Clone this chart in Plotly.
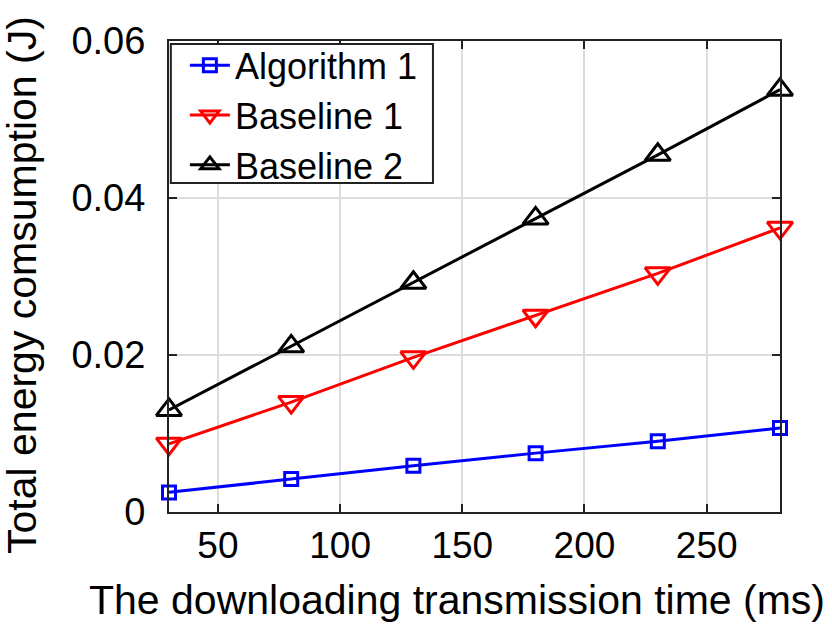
import plotly.graph_objects as go

x_vals = [30, 80, 130, 180, 230, 280]
algorithm1 = [0.0025, 0.0042, 0.0059, 0.0075, 0.0090, 0.0107]
baseline1 = [0.0087, 0.0140, 0.0197, 0.0250, 0.0304, 0.0362]
baseline2 = [0.0130, 0.0211, 0.0292, 0.0374, 0.0455, 0.0538]

x_ticks = [50, 100, 150, 200, 250]
y_ticks = [0, 0.02, 0.04, 0.06]
y_ticktext = ["0", "0.02", "0.04", "0.06"]

x_title = "The downloading transmission time (ms)"
y_title = "Total energy comsumption (J)"

series = [
    ("Algorithm 1", algorithm1, "#0000FF", "square-open", 13),
    ("Baseline 1", baseline1, "#FF0000", "triangle-down-open", 22),
    ("Baseline 2", baseline2, "#000000", "triangle-up-open", 22),
]

fig = go.Figure()
for name, ys, color, sym, size in series:
    fig.add_trace(go.Scatter(
        x=x_vals, y=ys, name=name, mode="lines+markers", cliponaxis=False,
        line=dict(color=color, width=3),
        marker=dict(symbol=sym, size=size, color=color, line=dict(width=3, color=color)),
    ))

font = "Liberation Sans, Arial, sans-serif"
fig.update_layout(
    width=832, height=624,
    margin=dict(l=169, r=52, t=41, b=112),
    paper_bgcolor="white", plot_bgcolor="white",
    font=dict(family=font, color="black", size=37),
    showlegend=True,
    legend=dict(
        x=0.026, y=1.012, xanchor="left", yanchor="top",
        bgcolor="rgba(0,0,0,0)", borderwidth=0,
        font=dict(size=36, family=font), tracegroupgap=0, itemwidth=40,
    ),
    shapes=[dict(
        type="rect", xref="paper", yref="paper",
        x0=0.003, x1=0.432, y0=0.6985, y1=0.9936,
        line=dict(color="#222", width=2), fillcolor="white", layer="above",
    )],
    annotations=[
        dict(text=x_title, xref="paper", yref="paper", x=0.4714, y=-0.186,
             xanchor="center", yanchor="middle", showarrow=False,
             font=dict(size=41, family=font, color="black")),
        dict(text=y_title, xref="paper", yref="paper", x=-0.2406, y=0.482,
             xanchor="center", yanchor="middle", showarrow=False, textangle=-90,
             font=dict(size=41, family=font, color="black")),
    ],
)
fig.update_xaxes(
    range=[30, 280], tickvals=x_ticks, ticks="inside", ticklen=8, tickwidth=1.5,
    tickcolor="#222", showline=True, linecolor="#222", linewidth=2, mirror="ticks",
    showgrid=True, gridcolor="#DCDCDC", gridwidth=1.5, zeroline=False,
    tickfont=dict(size=37), ticklabelstandoff=0,
)
fig.update_yaxes(
    range=[0, 0.06], tickvals=y_ticks, ticktext=y_ticktext, ticks="inside", ticklen=8,
    tickwidth=1.5, tickcolor="#222", showline=True, linecolor="#222", linewidth=2,
    mirror="ticks", showgrid=True, gridcolor="#DCDCDC", gridwidth=1.5, zeroline=False,
    tickfont=dict(size=38), ticklabelstandoff=14,
)

fig.write_html("out.html", config={"displayModeBar": False},
               post_script="document.body.style.margin='0';")
